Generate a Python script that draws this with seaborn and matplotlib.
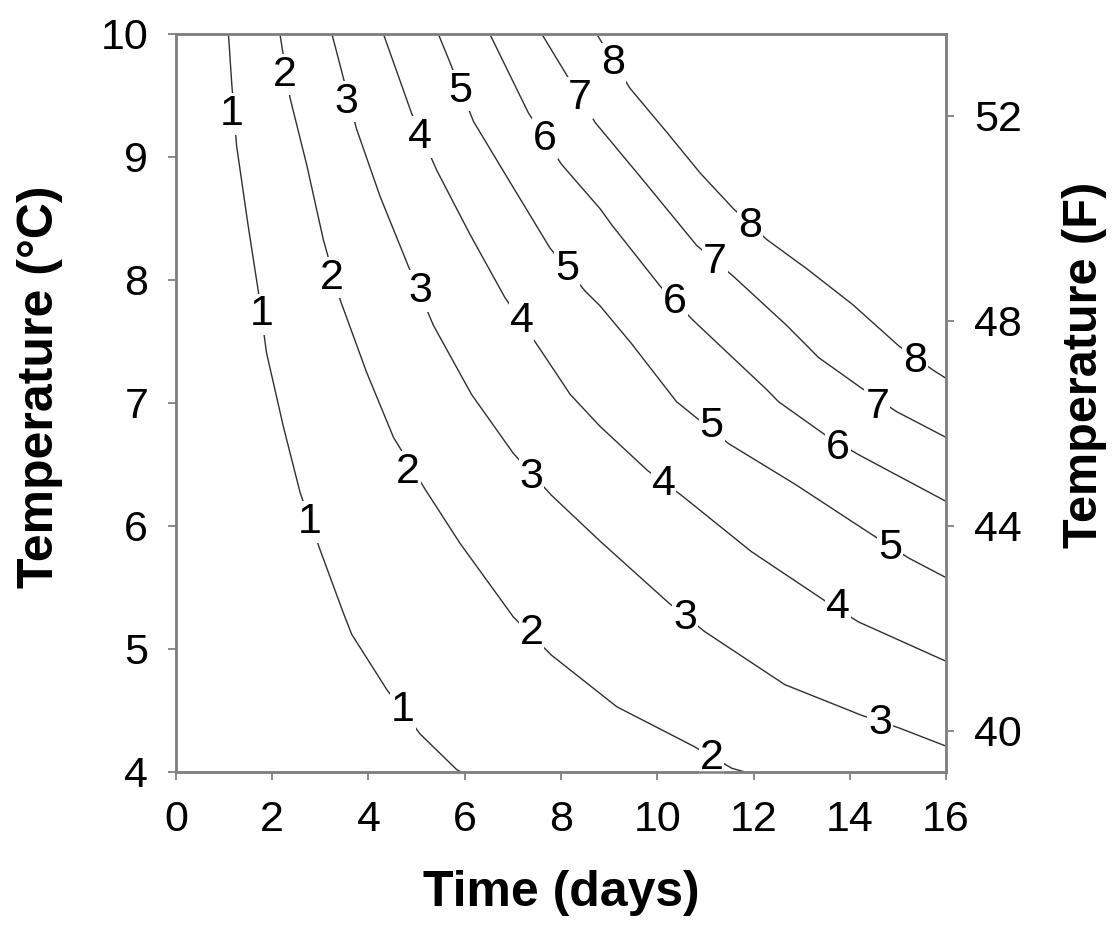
#%% Pacotes
import matplotlib
matplotlib.use("Agg")
import matplotlib.pyplot as plt
import seaborn as sns
import pandas as pd

sns.set_theme(style="ticks")
plt.rcParams['font.family'] = ['Liberation Sans', 'DejaVu Sans']

#%% Dados (tempo em dias, temperatura em °C) para cada nível
niveis = [1, 2, 3, 4, 5, 6, 7, 8]

t_1 = [1.09, 1.16, 1.26, 1.50, 1.71, 1.88, 2.23, 2.58, 2.99, 3.48, 3.65, 4.38, 5.07, 5.83, 5.92]
temp_1 = [10.0, 9.59, 9.09, 8.44, 7.91, 7.41, 6.81, 6.27, 5.81, 5.29, 5.12, 4.67, 4.31, 4.02, 4.00]

t_2 = [2.16, 2.37, 2.72, 3.06, 3.41, 3.96, 4.52, 5.19, 5.90, 7.01, 7.80, 9.16, 10.75, 11.55, 11.82]
temp_2 = [10.0, 9.48, 8.93, 8.33, 7.84, 7.25, 6.72, 6.29, 5.86, 5.26, 4.95, 4.53, 4.21, 4.03, 4.00]

t_3 = [3.24, 3.44, 3.75, 4.24, 4.83, 5.35, 6.14, 7.01, 7.80, 8.83, 10.25, 10.99, 12.65, 14.25, 15.01, 16.0]
temp_3 = [10.0, 9.70, 9.23, 8.68, 8.11, 7.63, 7.07, 6.59, 6.25, 5.87, 5.37, 5.14, 4.71, 4.46, 4.36, 4.21]

t_4 = [4.31, 4.90, 5.42, 6.11, 6.83, 7.56, 8.19, 8.81, 9.80, 10.50, 11.96, 13.49, 14.18, 16.0]
temp_4 = [10.0, 9.35, 8.89, 8.37, 7.86, 7.44, 7.07, 6.81, 6.45, 6.25, 5.79, 5.39, 5.22, 4.90]

t_5 = [5.45, 5.66, 6.18, 6.98, 7.77, 8.50, 8.81, 9.47, 10.40, 11.48, 12.86, 14.46, 15.22, 16.0]
temp_5 = [10.0, 9.80, 9.29, 8.77, 8.26, 7.91, 7.79, 7.48, 7.01, 6.67, 6.34, 5.93, 5.74, 5.58]

t_6 = [6.52, 7.32, 8.01, 8.81, 9.05, 10.06, 10.75, 12.27, 12.52, 13.49, 14.18, 16.0]
temp_6 = [10.0, 9.36, 8.94, 8.58, 8.45, 7.95, 7.67, 7.11, 7.01, 6.74, 6.58, 6.20]

t_7 = [7.60, 8.08, 8.71, 9.73, 10.82, 11.58, 12.69, 13.35, 14.21, 14.97, 16.0]
temp_7 = [10.0, 9.69, 9.28, 8.80, 8.28, 8.03, 7.63, 7.37, 7.13, 6.93, 6.72]

t_8 = [8.74, 9.43, 10.20, 10.89, 11.58, 12.27, 13.11, 14.06, 15.03, 15.72, 16.0]
temp_8 = [10.0, 9.56, 9.20, 8.87, 8.58, 8.33, 8.09, 7.80, 7.46, 7.27, 7.20]

# posições dos rótulos de cada nível
rot_t = {1: [1.16, 1.78, 2.78, 4.72],
         2: [2.26, 3.24, 4.82, 7.39, 11.13],
         3: [3.55, 5.07, 7.39, 10.58, 14.63],
         4: [5.07, 7.18, 10.13, 13.76],
         5: [5.90, 8.12, 11.13, 14.84],
         6: [7.67, 10.37, 13.76],
         7: [8.39, 11.20, 14.57],
         8: [9.09, 11.93, 15.36]}
rot_temp = {1: [9.35, 7.72, 6.03, 4.50],
            2: [9.67, 8.02, 6.44, 5.13, 4.11],
            3: [9.45, 7.91, 6.40, 5.25, 4.40],
            4: [9.16, 7.67, 6.34, 5.34],
            5: [9.54, 8.09, 6.81, 5.82],
            6: [9.15, 7.82, 6.63],
            7: [9.48, 8.15, 6.97],
            8: [9.76, 8.44, 7.34]}

x_ticks = [0, 2, 4, 6, 8, 10, 12, 14, 16]
y_ticks_c = [4, 5, 6, 7, 8, 9, 10]
y_ticks_f = [40, 44, 48, 52]

#%% Montando a tabela longa
linhas_t = [t_1, t_2, t_3, t_4, t_5, t_6, t_7, t_8]
linhas_temp = [temp_1, temp_2, temp_3, temp_4, temp_5, temp_6, temp_7, temp_8]
partes = []
for nivel, tt, tc in zip(niveis, linhas_t, linhas_temp):
    partes.append(pd.DataFrame({'nivel': nivel, 'tempo': tt, 'temp': tc}))
df = pd.concat(partes, ignore_index=True)

#%% Gráfico
cinza = '#808080'
fig = plt.figure(figsize=(11.18, 9.33), dpi=100)
ax = fig.add_axes([0.1574, 0.1726, 0.6888, 0.791])

sns.lineplot(data=df, x='tempo', y='temp', units='nivel', estimator=None,
             sort=False, color='#303030', linewidth=1.0, ax=ax)

for nivel in niveis:
    for xt, yt in zip(rot_t[nivel], rot_temp[nivel]):
        ax.text(xt, yt, str(nivel), fontsize=31, ha='center', va='center',
                color='black', zorder=5,
                bbox=dict(facecolor='white', edgecolor='none', pad=0.5))

ax.set_xlim(0, 16)
ax.set_ylim(4, 10)
ax.set_xticks(x_ticks)
ax.set_yticks(y_ticks_c)
ax.set_xlabel('Time (days)', fontsize=36, fontweight='bold', labelpad=22, color='black')
ax.set_ylabel('Temperature (\u00b0C)', fontsize=36, fontweight='bold', labelpad=27, color='black')
ax.yaxis.label.set_y(0.522)
ax.tick_params(direction='out', length=6, width=1.3, color=cinza,
               labelsize=31, pad=14, labelcolor='black')

ax2 = ax.twinx()
ax2.set_ylim(39.2, 53.6)
ax2.set_yticks(y_ticks_f)
ax2.set_ylabel('Temperature (F)', fontsize=35, fontweight='bold', labelpad=29, color='black')
ax2.yaxis.label.set_y(0.551)
ax2.tick_params(direction='out', length=6, width=1.3, color=cinza,
                labelsize=31, pad=14, labelcolor='black')

for eixo in (ax, ax2):
    for lado in ['left', 'right', 'top', 'bottom']:
        eixo.spines[lado].set_visible(True)
        eixo.spines[lado].set_color(cinza)
        eixo.spines[lado].set_linewidth(1.8)

fig.savefig('out.png', dpi=100)
